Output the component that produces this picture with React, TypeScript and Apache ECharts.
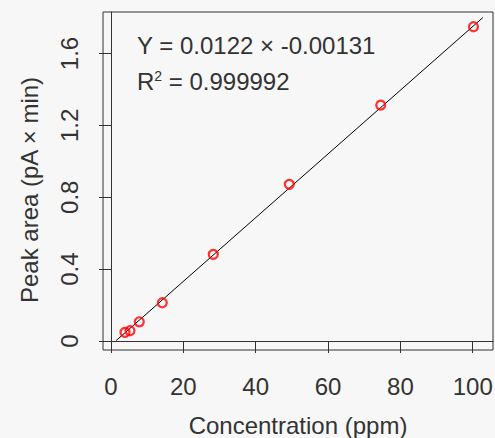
import React, { useEffect, useRef } from "react";
import * as echarts from "echarts";

const concentration = [3.87, 5.25, 7.82, 14.18, 28.28, 49.3, 74.56, 100.2];
const peakArea = [0.048, 0.057, 0.107, 0.213, 0.482, 0.872, 1.313, 1.749];
const fitX = [1.4, 102.8];
const fitY = [0.002, 1.8];
const xTicks = [0, 20, 40, 60, 80, 100];
const yTicks = [0, 0.4, 0.8, 1.2, 1.6];
const equationText = "Y = 0.0122 \u00d7 -0.00131";
const r2Value = "0.999992";

const FONT = "'Liberation Sans', Arial, sans-serif";
const TEXT_COLOR = "#333";
const FS = 24;

export default function App() {
  const ref = useRef<HTMLDivElement>(null);
  useEffect(() => {
    if (!ref.current) return;
    const chart = echarts.init(ref.current, null, { renderer: "svg" });
    chart.setOption({
      animation: false,
      backgroundColor: "#f7f7f7",
      grid: {
        left: 103,
        right: 2,
        top: 12,
        bottom: 88,
        outerBoundsMode: "none",
        containLabel: false,
        show: true,
        borderColor: "#333",
        borderWidth: 1,
        backgroundColor: "transparent",
      },
      xAxis: {
        type: "value",
        min: -2.21,
        max: 105.6,
        name: "Concentration (ppm)",
        nameLocation: "middle",
        nameGap: 63,
        nameTextStyle: { fontFamily: FONT, fontSize: FS, color: TEXT_COLOR },
        axisLine: { show: true, lineStyle: { color: "#333", width: 1 } },
        axisTick: { show: true, length: 12, customValues: xTicks, lineStyle: { color: "#333" } },
        axisLabel: {
          customValues: xTicks,
          margin: 24,
          fontFamily: FONT,
          fontSize: FS,
          color: TEXT_COLOR,
        },
        splitLine: { show: false },
      },
      yAxis: {
        type: "value",
        min: -0.05,
        max: 1.831,
        name: "Peak area (pA \u00d7 min)",
        nameLocation: "middle",
        nameRotate: 90,
        nameGap: 62,
        nameTextStyle: {
          fontFamily: FONT,
          fontSize: FS,
          color: TEXT_COLOR,
          padding: [0, 18, 0, 0],
        },
        axisLine: { show: true, lineStyle: { color: "#333", width: 1 } },
        axisTick: { show: true, length: 12, customValues: yTicks, lineStyle: { color: "#333" } },
        axisLabel: {
          customValues: yTicks,
          rotate: 90,
          margin: 22,
          fontFamily: FONT,
          fontSize: FS,
          color: TEXT_COLOR,
          formatter: (v: number) => (v === 0 ? "0" : v.toFixed(1)),
        },
        splitLine: { show: false },
      },
      series: [
        {
          type: "line",
          data: fitX.map((x, i) => [x, fitY[i]]),
          showSymbol: false,
          symbol: "none",
          lineStyle: { color: "#000", width: 1 },
          z: 2,
        },
        {
          type: "scatter",
          data: concentration.map((x, i) => [x, peakArea[i]]),
          symbol: "circle",
          symbolSize: 9,
          itemStyle: { color: "transparent", borderColor: "#ff0000", borderWidth: 2.2 },
          z: 3,
        },
      ],
      graphic: [
        {
          type: "text",
          left: 137,
          top: 33,
          style: {
            text: equationText,
            fontFamily: FONT,
            fontSize: FS,
            fill: TEXT_COLOR,
          },
        },
        {
          type: "text",
          left: 137,
          top: 69,
          style: {
            text: "R{sup|2} = " + r2Value,
            fontFamily: FONT,
            fontSize: FS,
            fill: TEXT_COLOR,
            rich: {
              sup: {
                fontFamily: FONT,
                fontSize: 14,
                fill: TEXT_COLOR,
                verticalAlign: "top",
                padding: [0, 0, 10, 0],
              },
            },
          },
        },
      ],
    });
    return () => chart.dispose();
  }, []);
  return (
    <div
      ref={ref}
      style={{ position: "absolute", left: 0, top: 0, width: 495, height: 438, background: "#f7f7f7" }}
    />
  );
}
